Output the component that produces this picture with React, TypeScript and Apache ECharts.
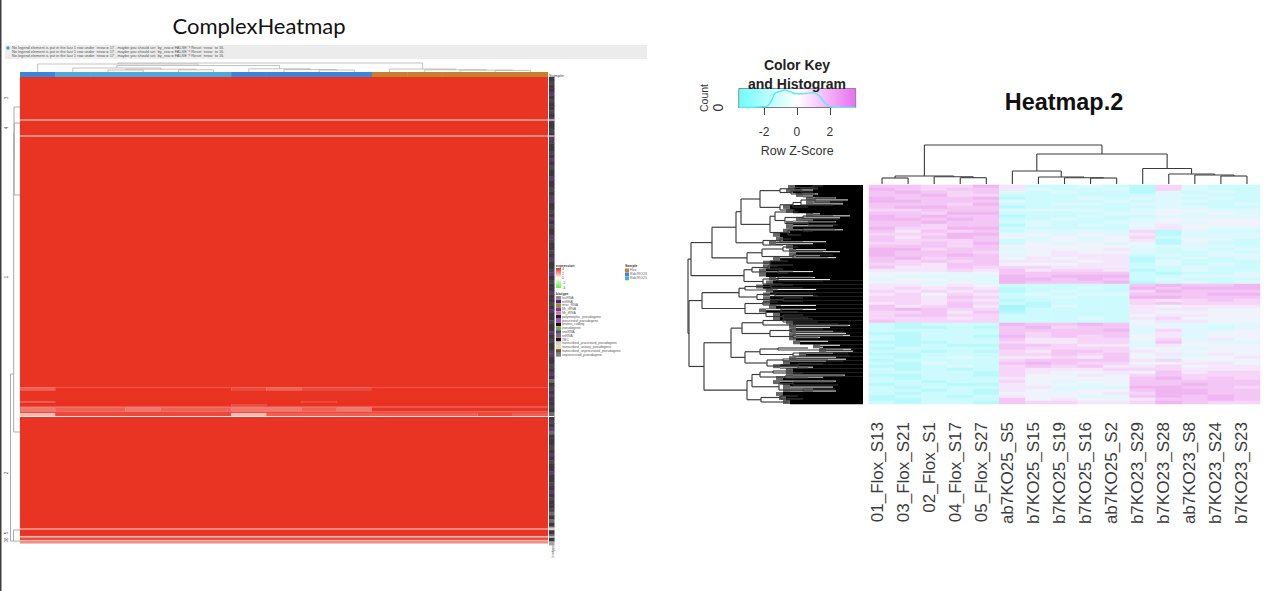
import React, { useEffect, useRef } from "react";
import * as echarts from "echarts";

const FONT = "Liberation Sans";

// ---------- Heatmap.2 (right) ----------
const sampleNames = [
  "01_Flox_S13", "03_Flox_S21", "02_Flox_S1", "04_Flox_S17", "05_Flox_S27",
  "ab7KO25_S5", "b7KO25_S15", "b7KO25_S19", "b7KO25_S16", "ab7KO25_S2",
  "b7KO23_S29", "b7KO23_S28", "ab7KO23_S8", "b7KO23_S24", "b7KO23_S23",
];
const heatColors = ["#a8f6f8", "#baf9fb", "#cdfbfd", "#dff8fd", "#eef3fc", "#f5e6fb", "#f6d5f8", "#f3c6f5", "#efb6f1", "#e9a0ed"];
const heatRows = [
  "77668 52232 16322", "87677 53223 16322", "78767 32322 13232", "77866 22222 23322",
  "87778 12232 33232", "88777 32223 23322", "77768 22332 33223", "78877 12222 23322",
  "66777 33332 34433", "77688 22223 34343", "87877 12232 23333", "88787 22322 34444",
  "77877 23223 34344", "77677 13232 45444", "86688 22222 35433", "75767 23333 61322",
  "66688 34343 51333", "75787 43434 62333", "76667 23434 51432", "66768 24343 41322",
  "77767 44444 33332", "88677 34445 32323", "87776 44544 32232", "87787 34555 23233",
  "78677 45455 12323", "76767 55545 13222", "66577 44455 23232", "75576 66555 22322",
  "55565 75665 12322", "44434 77777 21223", "43343 87888 22333", "34433 88787 23222",
  "44343 87778 12323", "55454 22222 78778", "56565 12232 87888", "65656 12322 68777",
  "56465 23233 77788", "66576 22322 88777", "66565 12222 65676", "56576 21222 67666",
  "75675 01322 54555", "78766 02222 55544", "66757 12222 54444", "67766 22222 45544",
  "66656 22232 56444", "76666 22222 45544", "21222 87787 43333", "21121 78677 34323",
  "22222 77778 36334", "11222 76777 35344", "21221 86767 45344", "21222 75566 46354",
  "11122 65566 37433", "21211 77655 35444", "12222 76666 44344", "22121 65776 54444",
  "11222 66767 45354", "21232 55657 43445", "12222 67777 56444", "21322 78766 44554",
  "11232 67675 56455", "21212 65556 66555", "22221 65445 47566", "11221 64454 67666",
  "21222 54444 78676", "22122 64344 77777", "12211 54434 77877", "21222 55333 88776",
  "22121 54344 78877", "21221 44445 68877", "12212 54433 78787", "11222 74544 57787",
  "21221 76655 68766",
];
// fork: [height, childA, childB, optional position]; leaf: [height, position]
const rightColTree: any = [39,
  [8, [6, [0, 0.5], [0, 1.5]], [7.3, [0, 2.5], [6.3, [0, 3.5], [0, 4.5]]]],
  [30,
    [13, [0, 5.5], [7, [0, 6.5], [6.3, [0, 7.5], [6, [0, 8.5], [0, 9.5]]]]],
    [15.5, [0, 10.5], [10, [0, 11.5], [9, [0, 12.5], [8, [0, 13.5], [0, 14.5]]]]],
  ],
];
const rightRowTree: any = [175,
  [172,
    [151,
      [127,
        [122,
          [103,
            [83, [68, [50, [40, 1], [45, 4]], [62, [45, 3], [50, 7]]], [72, [60, 6], [48, 9]]],
            [83, [70, [62, [48, [28, 13], [20, 17]], [30, 20]], [55, 22]], [68, 25]],
          ],
          [93,
            [88, [65, 27], [78, [60, [30, 31], [25, 34]], [55, [28, 37], [25, 40]]]],
            [75, [60, [28, 44], [50, 46]], [62, 50]],
          ],
        ],
        [100, [83, [72, 54], [60, 57]], [80, 60]],
      ],
      [116,
        [101, [80, [65, 62], [40, 66]], [70, [30, 70], [35, 73]]],
        [93, [75, 76], [70, 80]],
      ],
    ],
    [119,
      [111, [95, [85, 81], [80, 84]], [85, [70, 86], [75, 88]]],
      [100, [85, [50, 92], [40, 96]], [80, 99]],
    ],
  ],
  [174,
    [161,
      [124,
        [118, [92, [70, 100], [60, 103]], [85, 105]],
        [106, [88, [50, 108], [45, 111]], [80, [60, 113], [60, 116]]],
      ],
      [118,
        [100, [85, 117], [82, 120]],
        [97, [82, [60, 124], [65, 127]], [80, [60, 130], [55, 133]]],
      ],
    ],
    [159,
      [132,
        [121,
          [100, [80, [50, 134], [45, 137]], [73, [25, 139], [15, 141]]],
          [93, [72, [40, 144], [20, 147]], [70, [20, 150], [45, 153]]],
        ],
        [118,
          [103, [85, [55, 163], [20, 165]], [70, [15, 168], [13, 171]]],
          [96, [80, [35, 174], [20, 176]], [65, [40, 179], [55, 183]]],
        ],
      ],
      [116,
        [111,
          [103, [90, [70, 186], [60, 188]], [78, [20, 191], [55, 193]]],
          [84, [70, [30, 197], [25, 200]], [60, [28, 204], [50, 206]]],
        ],
        [102, [82, [65, 211], [60, 214]], [75, 217]],
      ],
    ],
  ],
];
// depth at which the dense leaf mass begins, one value per 55 row blocks
const rowMassBase = [
  68, 70, 60, 50, 50, 73, 70, 50, 60, 70, 70, 73, 83, 80, 87, 70, 67, 67, 83, 93,
  93, 97, 97, 87, 90, 100, 90, 93, 93, 93, 87, 97, 83, 83, 70, 67, 67, 67, 67, 63,
  43, 37, 57, 67, 73, 83, 70, 70, 80, 83, 73, 73, 80, 77, 73,
];
// depth reached by the thin white gaps between leaves, one value per 110 row blocks
const rowGapDepth = [
  67, 72, 50, 68, 45, 50, 27, 15, 33, 20, 60, 68, 70, 68, 43, 13, 23, 50, 27, 53,
  30, 58, 20, 57, 73, 70, 52, 67, 37, 50, 80, 73, 37, 23, 65, 43, 27, 57, 83, 87,
  93, 87, 70, 50, 77, 83, 48, 33, 63, 83, 77, 92, 47, 73, 87, 50, 83, 73, 77, 83,
  47, 80, 47, 83, 57, 82, 60, 83, 90, 70, 13, 33, 73, 30, 17, 13, 43, 67, 35, 57,
  23, 40, 12, 10, 30, 67, 27, 17, 37, 57, 63, 50, 70, 77, 57, 18, 40, 57, 27, 63,
  73, 30, 50, 27, 63, 73, 60, 70, 73, 77,
];

// ---------- Colour key ----------
const keyX = [-3.55, -2.05, -1.81, -1.54, -1.34, -1.04, -0.73, -0.43, -0.02, 0.49, 1.0, 1.3, 1.6, 1.91, 2.2, 3.58];
const keyCount = [0, 4, 9, 47, 89, 102, 111, 100, 87, 89, 94, 79, 43, 11, 2, 0];

// ---------- ComplexHeatmap (left) ----------
const R = "999999999999999";
const bandStarts = [0, 43.5, 59.5, 310.5, 314, 324, 326, 327, 329.5, 330.5, 334.5, 336, 340, 452.5, 459, 460.5, 463, 464];
const bandEnds = [42.5, 58.5, 310.5, 314, 324, 326, 327, 329.5, 330.5, 334.5, 336, 339, 451.5, 459, 460.5, 463, 464, 466.5];
const bandLevels = [
  R, R, R, "799999878899999", R, "799999998999999", R, "999999899999999", R,
  "677677667699999", "888888888888888", "388888377777787", R, R,
  "333333333333333", "888888888888888", "333333333333333", "555555555555555",
];
const sampleKinds = [0, 1, 1, 1, 1, 1, 0, 0, 0, 0, 2, 2, 2, 2, 2];
const sampleColors = ["#3b86d8", "#4fa8dc", "#c9802c"];
const leftColTree: any = [9,
  [8, [0, 0.5],
    [6.5,
      [4, [0, 1.5], [2.8, [2, [0, 2.5], [0, 3.5]], [2.2, [0, 4.5], [0, 5.5]]]],
      [3.2, [0, 6.5], [2.4, [0, 7.5], [2, [0, 8.5], [0, 9.5]]]],
    ],
  ],
  [3, [0, 10.5], [2.2, [0, 11.5], [1.9, [0, 12.5], [1.6, [0, 13.5], [0, 14.5]]]]],
];
const leftRowTree: any = [9.5,
  [6.3, [6, [0, 30], [5.8, [0, 46], [0, 118]]], [0, 355], 297],
  [6.5, [0, 453], [0, 464], 464],
];
const stripRows =
  "0100201001020010210010201002001012001020100210010200120100200102001002010012001020301020010301023000102010020010201001303040304";
const stripColors = ["#3b373e", "#4a4450", "#5c3a70", "#6b6870", "#a5a2a5"];
const stripGapStarts = [42.5, 58.5, 339, 451.5, 459.5];
const stripGapEnds = [43.5, 59.5, 340, 452.5, 460.5];

const warning = "No legend element is put in the last 1 row under `nrow = 17`, maybe you should set `by_row = FALSE`? Reset `nrow` to 16.";
const exprLabels = ["4", "2", "0", "-2", "-4"];
const sampleLegend = ["Flox", "Rab7KO23", "Rab7KO25"];
const sampleLegendColors = ["#c9802c", "#3b86d8", "#4fa8dc"];
const biotypes = [
  "lncRNA", "miRNA", "misc_RNA", "Mt_rRNA", "Mt_tRNA", "polymorphic_pseudogene", "processed_pseudogene",
  "protein_coding", "pseudogene", "snoRNA", "snRNA", "TEC", "transcribed_processed_pseudogene",
  "transcribed_unitary_pseudogene", "transcribed_unprocessed_pseudogene", "unprocessed_pseudogene",
];
const biotypeColors = [
  "#8e8e8e", "#5e1a80", "#a08a2c", "#7a3a9a", "#d070b0", "#222222", "#c040e0", "#111111",
  "#8aa050", "#3f4f8a", "#8a6a6a", "#2a1010", "#e8c8d8", "#cfe8b0", "#7a4a30", "#6a8a8a",
];
const sliceNames = ["3", "4", "1", "2", "5", "36"];
const sliceRows = [98, 128, 277, 473, 533, 540];

function walk(n: any, segs: number[][]): { h: number; p: number } {
  if (n.length === 2) return { h: n[0], p: n[1] };
  const a = walk(n[1], segs);
  const b = walk(n[2], segs);
  const p = n[3] !== undefined ? n[3] : (a.p + b.p) / 2;
  segs.push([n[0], a.p, a.h, a.p], [n[0], b.p, b.h, b.p], [n[0], a.p, n[0], b.p]);
  return { h: n[0], p };
}
const treeData = (tree: any, columns: boolean) => {
  const segs: number[][] = [];
  walk(tree, segs);
  return columns ? segs.map((s) => [s[1], s[0], s[3], s[2]]) : segs;
};

const hidden = (gridIndex: number, min: number, max: number, inverse = false) => ({
  type: "value", gridIndex, min, max, inverse, show: false,
});

const lineItem = (stroke: string, lineWidth: number) => (_: any, api: any) => {
  const a = api.coord([api.value(0), api.value(1)]);
  const b = api.coord([api.value(2), api.value(3)]);
  return { type: "line", shape: { x1: a[0], y1: a[1], x2: b[0], y2: b[1] }, style: { stroke, lineWidth } };
};
const treeSeries = (grid: number, data: number[][], stroke: string, width: number) => ({
  type: "custom", xAxisIndex: grid, yAxisIndex: grid, data, renderItem: lineItem(stroke, width), silent: true,
});

function buildOption() {
  const heatData: number[][] = [];
  heatRows.forEach((row, r) => {
    row.replace(/ /g, "").split("").forEach((d, c) => heatData.push([c, r, Number(d)]));
  });
  const rowIdx = heatRows.map((_, i) => String(i));

  // neighbouring columns with the same level share one rectangle
  const leftData: number[][] = [];
  bandLevels.forEach((lv, i) => {
    let c = 0;
    while (c < lv.length) {
      let e = c + 1;
      while (e < lv.length && lv[e] === lv[c]) e++;
      leftData.push([c, e, bandStarts[i], bandEnds[i], (Number(lv[c]) * 4) / 9]);
      c = e;
    }
  });

  const stripH = 468 / stripRows.length;
  const stripData = stripRows.split("").map((d, i) => [i * stripH, (i + 1) * stripH, Number(d)]);
  const gapData = stripGapStarts.map((s, i) => [s, stripGapEnds[i]]);

  const baseH = 219 / rowMassBase.length;
  const massData = rowMassBase.map((d, i) => [i * baseH, (i + 1) * baseH, d]);
  const gapH = 219 / rowGapDepth.length;
  const leafGaps = rowGapDepth
    .map((d, i) => [(i + 0.5) * gapH, d, rowMassBase[Math.min(rowMassBase.length - 1, Math.floor(((i + 0.5) * gapH) / baseH))]])
    .filter((g) => g[1] <= 50 && g[1] < g[2]);

  const grids = [
    { left: 20, top: 77, width: 528, height: 468 }, // 0 left heat
    { left: 20, top: 60, width: 528, height: 12 }, // 1 left col tree
    { left: 20, top: 72, width: 528, height: 5 }, // 2 sample bar
    { left: 2, top: 77, width: 18, height: 468 }, // 3 left row tree
    { left: 549, top: 77, width: 5.5, height: 468 }, // 4 biotype strip
    { left: 738.7, top: 88.5, width: 117, height: 19 }, // 5 colour key
    { left: 869, top: 185, width: 391, height: 219 }, // 6 right heat
    { left: 869, top: 145, width: 391, height: 39 }, // 7 right col tree
    { left: 688, top: 185, width: 175, height: 219 }, // 8 right row tree
    { left: 864, top: 185, width: 391, height: 219 }, // 9 sample labels
  ];

  const xAxis: any[] = [
    hidden(0, 0, 15),
    hidden(1, 0, 15),
    hidden(2, 0, 15),
    hidden(3, 0, 18, true),
    hidden(4, 0, 1),
    {
      type: "value", gridIndex: 5, min: -3.55, max: 3.58, splitLine: { show: false },
      axisLine: { show: true, lineStyle: { color: "#444", width: 1 } },
      axisTick: { show: true, length: 7.5, customValues: [-2, 0, 2], lineStyle: { color: "#444", width: 1 } },
      axisLabel: { show: true, customValues: [-2, 0, 2], margin: 18, fontFamily: FONT, fontSize: 12, color: "#333" },
      name: "Row Z-Score", nameLocation: "middle", nameGap: 37,
      nameTextStyle: { fontFamily: FONT, fontSize: 12.5, color: "#333" },
    },
    { type: "category", gridIndex: 6, data: sampleNames, show: false },
    hidden(7, 0, 15),
    hidden(8, 0, 175, true),
    {
      type: "category", gridIndex: 9, data: sampleNames, axisLine: { show: false }, axisTick: { show: false },
      axisLabel: { rotate: 90, margin: 18, fontFamily: FONT, fontSize: 17, color: "#3c3c3c", interval: 0 },
    },
  ];
  const yAxis: any[] = [
    hidden(0, 0, 468, true),
    hidden(1, 0, 12),
    hidden(2, 0, 1),
    hidden(3, 0, 468, true),
    hidden(4, 0, 468, true),
    {
      type: "value", gridIndex: 5, min: 0, max: 121, splitLine: { show: false },
      axisLine: { show: true, lineStyle: { color: "#444", width: 1 } },
      axisTick: { show: true, length: 7, customValues: [0, 25, 50, 75, 100], lineStyle: { color: "#444", width: 1 } },
      axisLabel: { show: true, customValues: [0], rotate: 90, margin: 14, fontFamily: FONT, fontSize: 14, color: "#333" },
      name: "Count", nameLocation: "middle", nameRotate: 90, nameGap: 27,
      nameTextStyle: { fontFamily: FONT, fontSize: 10.5, color: "#333" },
    },
    { type: "category", gridIndex: 6, data: rowIdx, inverse: true, show: false },
    hidden(7, 0, 39),
    hidden(8, 0, 219, true),
    { type: "value", gridIndex: 9, show: false, min: 0, max: 1 },
  ];

  const series: any[] = [
    {
      type: "custom", xAxisIndex: 0, yAxisIndex: 0, data: leftData, silent: true,
      renderItem: (_: any, api: any) => {
        const a = api.coord([api.value(0), api.value(2)]);
        const b = api.coord([api.value(1), api.value(3)]);
        const fill = echarts.color.lerp(api.value(4) / 4, ["#ffffff", "#e93323"]);
        return { type: "rect", shape: { x: a[0], y: a[1], width: b[0] - a[0], height: b[1] - a[1] }, style: { fill, stroke: fill, lineWidth: 0.15 } };
      },
    },
    treeSeries(1, treeData(leftColTree, true), "#aaaaaa", 0.7),
    {
      type: "custom", xAxisIndex: 2, yAxisIndex: 2, data: sampleKinds.map((k, i) => [i, k]), silent: true,
      renderItem: (_: any, api: any) => {
        const c = api.value(0);
        const a = api.coord([c, 1]);
        const b = api.coord([c + 1, 0]);
        return { type: "rect", shape: { x: a[0], y: a[1], width: b[0] - a[0] + (c < 14 ? 0.5 : 0), height: b[1] - a[1] }, style: { fill: sampleColors[api.value(1)] } };
      },
    },
    treeSeries(3, treeData(leftRowTree, false), "#aaaaaa", 1),
    {
      type: "custom", xAxisIndex: 4, yAxisIndex: 4, data: stripData, silent: true,
      renderItem: (_: any, api: any) => {
        const a = api.coord([0, api.value(0)]);
        const b = api.coord([1, api.value(1)]);
        return { type: "rect", shape: { x: a[0], y: a[1], width: b[0] - a[0], height: b[1] - a[1] + 0.4 }, style: { fill: stripColors[api.value(2)] } };
      },
    },
    {
      type: "custom", xAxisIndex: 4, yAxisIndex: 4, data: gapData, silent: true,
      renderItem: (_: any, api: any) => {
        const a = api.coord([0, api.value(0)]);
        const b = api.coord([1, api.value(1)]);
        return { type: "rect", shape: { x: a[0], y: a[1], width: b[0] - a[0], height: b[1] - a[1] }, style: { fill: "#ffffff" } };
      },
    },
    {
      type: "custom", xAxisIndex: 5, yAxisIndex: 5, data: [[-3.55, 3.58, 0, 121]], silent: true,
      renderItem: (_: any, api: any) => {
        const a = api.coord([api.value(0), api.value(3)]);
        const b = api.coord([api.value(1), api.value(2)]);
        return {
          type: "rect", shape: { x: a[0], y: a[1], width: b[0] - a[0], height: b[1] - a[1] },
          style: {
            stroke: "#777", lineWidth: 0.8,
            fill: new echarts.graphic.LinearGradient(0, 0, 1, 0, [
              { offset: 0, color: "#6ffcfc" },
              { offset: 0.5, color: "#ffffff" },
              { offset: 1, color: "#e96ff0" },
            ]),
          },
        };
      },
    },
    {
      type: "line", xAxisIndex: 5, yAxisIndex: 5, data: keyX.map((x, i) => [x, keyCount[i]]),
      smooth: 0.4, showSymbol: false, lineStyle: { color: "#5fe9f6", width: 1.5 }, silent: true,
    },
    {
      type: "heatmap", xAxisIndex: 6, yAxisIndex: 6, data: heatData, silent: true,
      itemStyle: { borderWidth: 0 }, emphasis: { disabled: true },
    },
    treeSeries(7, treeData(rightColTree, true), "#3a3a3a", 1.1),
    {
      // grey fringe on the left edge of the leaf mass
      type: "custom", xAxisIndex: 8, yAxisIndex: 8, data: massData, silent: true,
      renderItem: (_: any, api: any) => {
        const a = api.coord([api.value(2) + 7, api.value(0)]);
        const b = api.coord([api.value(2), api.value(1)]);
        return { type: "rect", shape: { x: a[0], y: a[1], width: b[0] - a[0], height: b[1] - a[1] }, style: { fill: "#666666" } };
      },
    },
    {
      type: "custom", xAxisIndex: 8, yAxisIndex: 8, data: massData, silent: true,
      renderItem: (_: any, api: any) => {
        const a = api.coord([api.value(2), api.value(0)]);
        const b = api.coord([0, api.value(1)]);
        return { type: "rect", shape: { x: a[0], y: a[1], width: b[0] - a[0], height: b[1] - a[1] + 0.3 }, style: { fill: "#000000" } };
      },
    },
    {
      type: "custom", xAxisIndex: 8, yAxisIndex: 8, data: leafGaps, silent: true,
      renderItem: (_: any, api: any) => {
        const a = api.coord([api.value(2), api.value(0)]);
        const b = api.coord([api.value(1), api.value(0)]);
        return { type: "line", shape: { x1: a[0], y1: a[1], x2: b[0], y2: b[1] }, style: { stroke: "#f2f2f2", lineWidth: 1 } };
      },
    },
    treeSeries(8, treeData(rightRowTree, false), "#3a3a3a", 1.15),
  ];

  const heatIndex = series.findIndex((s) => s.type === "heatmap");

  const txt = (text: string, x: number, y: number, fontSize: number, fill = "#444", extra: any = {}) => ({
    type: "text", x, y,
    style: { text, fontSize, fill, fontFamily: FONT, textAlign: "left", textVerticalAlign: "middle", ...extra },
    silent: true,
  });
  const rotated = (text: string, x: number, y: number, fontSize: number, fill = "#555") => ({
    type: "text", x, y, rotation: Math.PI / 2,
    style: { text, fontSize, fill, fontFamily: FONT, textAlign: "center", textVerticalAlign: "middle" },
    silent: true,
  });
  const swatch = (x: number, y: number, width: number, height: number, fill: any) => ({
    type: "rect", shape: { x, y, width, height }, style: { fill }, silent: true,
  });

  const elements: any[] = [
    swatch(0, 0, 1.5, 591, "#3f3f3f"),
    swatch(5, 45, 642, 14, "#ececec"),
    { type: "circle", shape: { cx: 8, cy: 48, r: 1.6 }, style: { fill: "#4a8fd0" }, silent: true },
    txt(warning, 12, 47.8, 3.9, "#555"),
    txt(warning, 12, 51.6, 3.9, "#555"),
    txt(warning, 12, 55.6, 3.9, "#555"),
    txt("Sample", 549, 75, 4.4),
    rotated("biotype", 552, 551, 4),
    ...sliceNames.map((s, i) => rotated(s, 6, sliceRows[i], 4.5)),
    txt("expression", 556, 265.5, 3.5, "#333", { fontWeight: "bold" }),
    swatch(556, 268, 5, 20, new echarts.graphic.LinearGradient(0, 0, 0, 1, [
      { offset: 0, color: "#e93323" },
      { offset: 0.5, color: "#ffffff" },
      { offset: 1, color: "#66ee44" },
    ])),
    ...exprLabels.map((s, i) => txt(s, 562, 269 + i * 4.7, 3.5, "#555")),
    txt("biotype", 556, 293.5, 3.5, "#333", { fontWeight: "bold" }),
    ...biotypes.map((s, i) => swatch(556, 296 + i * 3.8, 5, 3.6, biotypeColors[i])),
    ...biotypes.map((s, i) => txt(s, 562, 297.8 + i * 3.8, 3.4, "#555")),
    txt("Sample", 625, 265.5, 3.5, "#333", { fontWeight: "bold" }),
    ...sampleLegend.map((s, i) => swatch(625, 268.5 + i * 4, 4, 3.8, sampleLegendColors[i])),
    ...sampleLegend.map((s, i) => txt(s, 630, 270.4 + i * 4, 3.4, "#555")),
  ];

  return {
    animation: false,
    backgroundColor: "#ffffff",
    title: [
      { text: "ComplexHeatmap", left: 254, top: 9, textAlign: "center", textStyle: { fontFamily: "Lato", fontSize: 22, fontWeight: "normal", color: "#111" } },
      { text: "Heatmap.2", left: 1059, top: 85, textAlign: "center", textStyle: { fontFamily: FONT, fontSize: 23.4, fontWeight: "bold", color: "#111" } },
      { text: "Color Key\nand Histogram", left: 792, top: 50, textAlign: "center", textStyle: { fontFamily: FONT, fontSize: 14, fontWeight: "bold", color: "#222", lineHeight: 19 } },
    ],
    grid: grids,
    xAxis,
    yAxis,
    visualMap: [{ type: "continuous", show: false, min: 0, max: 9, seriesIndex: heatIndex, dimension: 2, inRange: { color: heatColors } }],
    series,
    graphic: { elements },
  };
}

export default function App() {
  const ref = useRef<HTMLDivElement>(null);
  useEffect(() => {
    const chart = echarts.init(ref.current!, undefined, { renderer: "svg" });
    chart.setOption(buildOption() as any);
    return () => chart.dispose();
  }, []);
  return <div ref={ref} style={{ position: "fixed", left: 0, top: 0, width: 1280, height: 591 }} />;
}
